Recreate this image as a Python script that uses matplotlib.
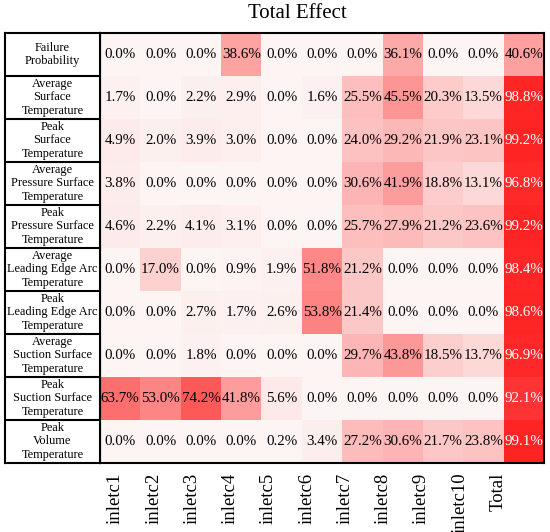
import numpy as np
import matplotlib
matplotlib.use("Agg")
import matplotlib.pyplot as plt
from matplotlib.colors import LinearSegmentedColormap

plt.rcParams['font.family'] = ['Liberation Serif', 'DejaVu Serif']

rows = ["Failure\nProbability",
        "Average\nSurface\nTemperature",
        "Peak\nSurface\nTemperature",
        "Average\nPressure Surface\nTemperature",
        "Peak\nPressure Surface\nTemperature",
        "Average\nLeading Edge Arc\nTemperature",
        "Peak\nLeading Edge Arc\nTemperature",
        "Average\nSuction Surface\nTemperature",
        "Peak\nSuction Surface\nTemperature",
        "Peak\nVolume\nTemperature"]
cols = ["inletc1", "inletc2", "inletc3", "inletc4", "inletc5", "inletc6",
        "inletc7", "inletc8", "inletc9", "inletc10", "Total"]

r1 = [0.0, 0.0, 0.0, 38.6, 0.0, 0.0, 0.0, 36.1, 0.0, 0.0, 40.6]
r2 = [1.7, 0.0, 2.2, 2.9, 0.0, 1.6, 25.5, 45.5, 20.3, 13.5, 98.8]
r3 = [4.9, 2.0, 3.9, 3.0, 0.0, 0.0, 24.0, 29.2, 21.9, 23.1, 99.2]
r4 = [3.8, 0.0, 0.0, 0.0, 0.0, 0.0, 30.6, 41.9, 18.8, 13.1, 96.8]
r5 = [4.6, 2.2, 4.1, 3.1, 0.0, 0.0, 25.7, 27.9, 21.2, 23.6, 99.2]
r6 = [0.0, 17.0, 0.0, 0.9, 1.9, 51.8, 21.2, 0.0, 0.0, 0.0, 98.4]
r7 = [0.0, 0.0, 2.7, 1.7, 2.6, 53.8, 21.4, 0.0, 0.0, 0.0, 98.6]
r8 = [0.0, 0.0, 1.8, 0.0, 0.0, 0.0, 29.7, 43.8, 18.5, 13.7, 96.9]
r9 = [63.7, 53.0, 74.2, 41.8, 5.6, 0.0, 0.0, 0.0, 0.0, 0.0, 92.1]
r10 = [0.0, 0.0, 0.0, 0.0, 0.2, 3.4, 27.2, 30.6, 21.7, 23.8, 99.1]
vals = np.array([r1, r2, r3, r4, r5, r6, r7, r8, r9, r10])

W, H = 550, 532
fig = plt.figure(figsize=(5.5, 5.32), dpi=100)

cmap = LinearSegmentedColormap.from_list("wr", ["#fcf5f4", "#ff2323"])

# heatmap axes
x0, x1, y0, y1 = 100, 544, 33, 463
ax = fig.add_axes([x0 / W, 1 - y1 / H, (x1 - x0) / W, (y1 - y0) / H])
ax.imshow(vals, cmap=cmap, vmin=0, vmax=100, aspect='auto', interpolation='nearest')
nr, nc = vals.shape
for i in range(nr):
    for j in range(nc):
        v = vals[i, j]
        ax.text(j, i, f"{v:.1f}%", ha='center', va='center', fontsize=10.8,
                color='white' if v > 85 else 'black')
ax.set_xticks(np.arange(nc) * 0.948 - 0.12)
ax.set_xticklabels(cols, rotation=90, fontsize=13.5)
ax.tick_params(axis='x', length=0, pad=7)
ax.set_yticks([])
for s in ax.spines.values():
    s.set_linewidth(1.5)

# row label column
lx0 = 5
lax = fig.add_axes([lx0 / W, 1 - y1 / H, (x0 - lx0) / W, (y1 - y0) / H])
lax.set_xlim(0, 1)
lax.set_ylim(nr - 0.5, -0.5)
lax.set_xticks([])
lax.set_yticks([])
for k in range(1, nr):
    lax.axhline(k - 0.5, color='black', lw=1.5)
for i, lab in enumerate(rows):
    lax.text(0.5, i, lab, ha='center', va='center', fontsize=8.9, linespacing=1.2)
for s in lax.spines.values():
    s.set_linewidth(1.5)

fig.text(297 / W, 1 - 13 / H, "Total Effect", ha='center', va='center', fontsize=15)

fig.savefig("out.png", dpi=100)
